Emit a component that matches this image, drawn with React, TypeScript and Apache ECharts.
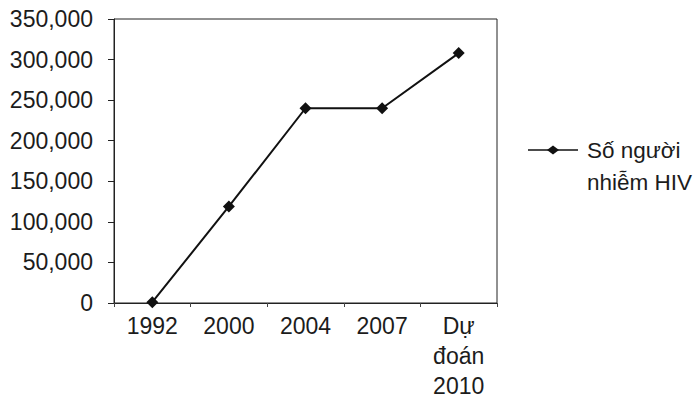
import React, { useEffect, useRef } from "react";
import * as echarts from "echarts";

const categories = ["1992", "2000", "2004", "2007", "Dự\nđoán\n2010"];
const hivCases = [1000, 119000, 240000, 240000, 308000];
const seriesName = "Số người\nnhiễm HIV";
const yMin = 0;
const yMax = 350000;
const yInterval = 50000;

const FONT = "'Liberation Sans', Arial, sans-serif";
const TEXT = "#1c1c1c";
const FS = 23;

export default function App() {
  const ref = useRef<HTMLDivElement>(null);
  useEffect(() => {
    if (!ref.current) return;
    const chart = echarts.init(ref.current, undefined, { renderer: "svg" });
    chart.setOption({
      animation: false,
      backgroundColor: "#ffffff",
      textStyle: { fontFamily: FONT },
      grid: {
        left: 114,
        top: 19,
        width: 383,
        height: 284,
        show: true,
        borderColor: "#222",
        borderWidth: 1,
        containLabel: false,
      },
      xAxis: {
        type: "category",
        data: categories,
        boundaryGap: true,
        axisLine: { show: true, lineStyle: { color: "#222", width: 1 } },
        axisTick: { show: true, length: 4, lineStyle: { color: "#444" } },
        axisLabel: {
          fontFamily: FONT,
          fontSize: FS,
          color: TEXT,
          lineHeight: 30,
          margin: 8,
          interval: 0,
        },
        splitLine: { show: false },
      },
      yAxis: {
        type: "value",
        min: yMin,
        max: yMax,
        interval: yInterval,
        axisLine: { show: true, lineStyle: { color: "#222", width: 1 } },
        axisTick: { show: true, length: 6, lineStyle: { color: "#222" } },
        axisLabel: {
          fontFamily: FONT,
          fontSize: FS,
          color: TEXT,
          margin: 21,
          formatter: (v: number) => v.toLocaleString("en-US"),
        },
        splitLine: { show: false },
      },
      series: [
        {
          name: seriesName,
          type: "line",
          data: hivCases,
          symbol: "diamond",
          symbolSize: 12,
          itemStyle: { color: "#111" },
          lineStyle: { color: "#111", width: 2 },
        },
      ],
      graphic: [
        {
          type: "line",
          shape: { x1: 528, y1: 150, x2: 578, y2: 150 },
          style: { stroke: "#111", lineWidth: 1.5 },
        },
        {
          type: "polygon",
          shape: {
            points: [
              [553, 145.5],
              [559, 150],
              [553, 154.5],
              [547, 150],
            ],
          },
          style: { fill: "#111" },
        },
        {
          type: "text",
          x: 587,
          y: 134,
          style: {
            text: seriesName,
            fontFamily: FONT,
            fontSize: 22.5,
            lineHeight: 32,
            fill: TEXT,
            align: "left",
            verticalAlign: "top",
          },
        },
      ],
    });
    return () => chart.dispose();
  }, []);
  return (
    <div
      ref={ref}
      style={{ position: "fixed", left: 0, top: 0, width: 700, height: 413 }}
    />
  );
}
